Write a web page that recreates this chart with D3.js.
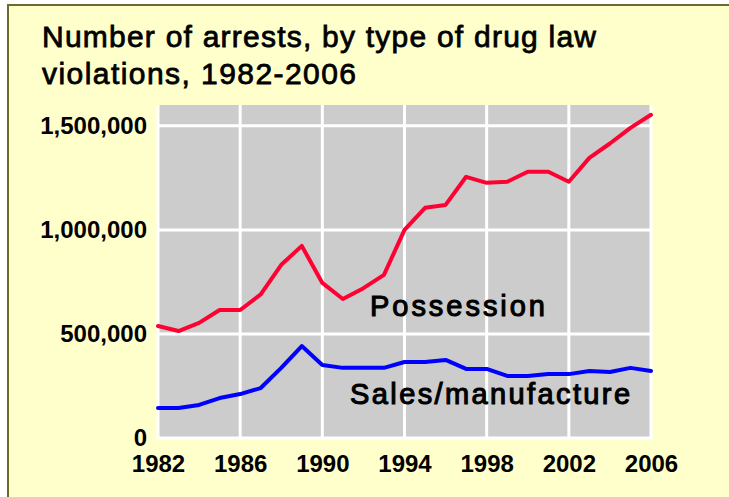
<!DOCTYPE html>
<html>
<head>
<meta charset="utf-8">
<script src="https://cdn.jsdelivr.net/npm/d3@7"></script>
<style>
  html, body { margin: 0; padding: 0; background: #ffffff; }
  svg { display: block; }
</style>
</head>
<body>
<script>
// ---- data ----
const years = [1982,1983,1984,1985,1986,1987,1988,1989,1990,1991,1992,1993,1994,
               1995,1996,1997,1998,1999,2000,2001,2002,2003,2004,2005,2006];
const possession = [538000,514000,553000,615000,615000,690000,832000,923000,745000,668000,
                    720000,784000,1000000,1106000,1120000,1255000,1226000,1231000,1279000,
                    1279000,1231000,1346000,1415000,1490000,1553000];
const sales = [144000,144000,159000,192000,211000,240000,337000,442000,351000,337000,
               337000,337000,365000,365000,375000,332000,332000,298000,298000,307000,
               307000,322000,317000,337000,322000];
const xTicks = [1982,1986,1990,1994,1998,2002,2006];
const yTicks = [0,500000,1000000,1500000];
const yTickLabels = ["0","500,000","1,000,000","1,500,000"];
const titleLines = ["Number of arrests, by type of drug law", "violations, 1982-2006"];
const seriesNames = ["Possession", "Sales/manufacture"];
const seriesColors = ["#ff0033", "#0000ff"];

// ---- layout ----
const W = 729, H = 497;
const FONT = "'Liberation Sans', Arial, sans-serif";
const svg = d3.select("body").append("svg").attr("width", W).attr("height", H);

// panel background with olive border (top & left)
svg.append("rect").attr("x", 9).attr("y", 6).attr("width", W - 9).attr("height", H - 6)
   .attr("fill", "#ffffcc");
svg.append("line").attr("x1", 8).attr("x2", W).attr("y1", 5).attr("y2", 5)
   .attr("stroke", "#6b6b2b").attr("stroke-width", 2);
svg.append("line").attr("x1", 8).attr("x2", 8).attr("y1", 4).attr("y2", H)
   .attr("stroke", "#6b6b2b").attr("stroke-width", 2);

const x = d3.scaleLinear().domain([1982, 2006]).range([158, 651]);
const y = d3.scaleLinear().domain([0, 1600000]).range([438, 105]);

// plot background
svg.append("rect")
   .attr("x", x(1982)).attr("y", y(1600000))
   .attr("width", x(2006) - x(1982)).attr("height", y(0) - y(1600000))
   .attr("fill", "#cccccc");

// grid
const grid = svg.append("g").attr("stroke", "#ffffff").attr("stroke-width", 3);
grid.selectAll("line.v").data(xTicks).join("line").attr("class", "v")
    .attr("x1", d => x(d)).attr("x2", d => x(d))
    .attr("y1", y(1600000)).attr("y2", y(0) + 1.5);
grid.selectAll("line.h").data(yTicks).join("line").attr("class", "h")
    .attr("x1", x(1982) - 1.5).attr("x2", x(2006) + 1.5)
    .attr("y1", d => y(d)).attr("y2", d => y(d));

// axes (labels only)
const yAxis = svg.append("g").attr("transform", `translate(${x(1982)},0)`)
  .call(d3.axisLeft(y).tickValues(yTicks).tickSize(0).tickPadding(11)
        .tickFormat((d, i) => yTickLabels[i]));
const xAxis = svg.append("g").attr("transform", `translate(0,${y(0)})`)
  .call(d3.axisBottom(x).tickValues(xTicks).tickSize(0).tickPadding(17)
        .tickFormat(d3.format("d")));
[yAxis, xAxis].forEach(g => {
  g.select(".domain").remove();
  g.selectAll("text")
   .attr("font-family", FONT)
   .attr("font-size", 24).attr("font-weight", "bold").attr("fill", "#000");
});

// lines
const line = vals => d3.line().x((d, i) => x(years[i])).y(d => y(d))(vals);
[possession, sales].forEach((vals, k) => {
  svg.append("path").attr("d", line(vals))
     .attr("fill", "none").attr("stroke", seriesColors[k])
     .attr("stroke-width", 4).attr("stroke-linejoin", "round").attr("stroke-linecap", "round");
});

// series labels (anchored in data space)
const labelAnchors = [[1992.32, 586000, 175], [1991.35, 163000, 280]];
labelAnchors.forEach((a, k) => {
  svg.append("text").attr("x", x(a[0])).attr("y", y(a[1]))
     .attr("font-family", FONT)
     .attr("font-size", 29).attr("fill", "#000")
     .attr("stroke", "#000").attr("stroke-width", 1.1)
     .attr("textLength", a[2]).attr("lengthAdjust", "spacing")
     .text(seriesNames[k]);
});

// title
const titleLen = [554, 314];
titleLines.forEach((t, i) => {
  svg.append("text").attr("x", 42).attr("y", 47 + i * 37)
     .attr("font-family", FONT)
     .attr("font-size", 30).attr("fill", "#000")
     .attr("stroke", "#000").attr("stroke-width", 0.8)
     .attr("textLength", titleLen[i]).attr("lengthAdjust", "spacing")
     .text(t);
});
</script>
</body>
</html>
